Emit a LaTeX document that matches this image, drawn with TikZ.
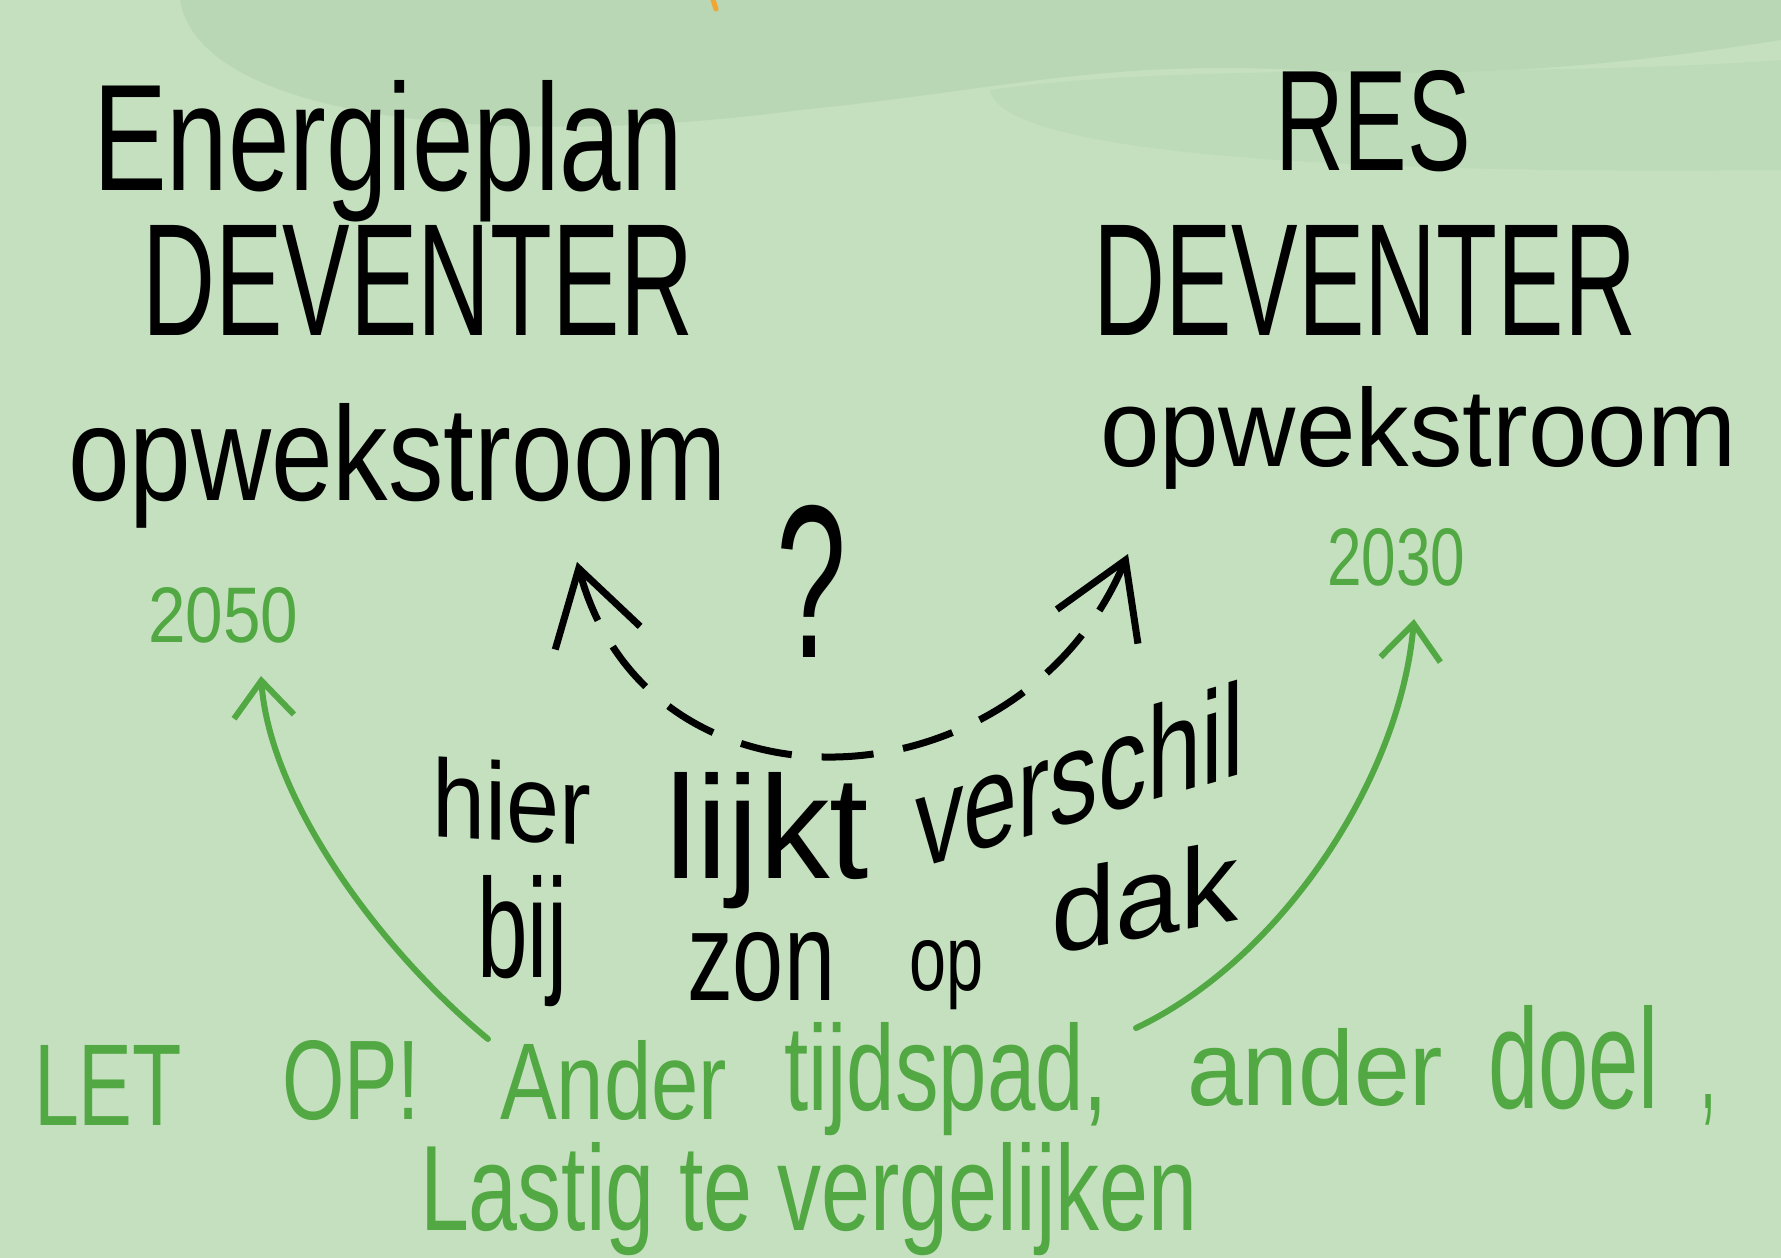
\documentclass[tikz,border=0pt]{standalone}
\usepackage{fontspec}
\setmainfont{Liberation Sans}
\usetikzlibrary{arrows.meta}
\definecolor{bgmain}{HTML}{C4E0BF}
\definecolor{bgdark}{HTML}{BAD7B5}
\definecolor{inkgreen}{HTML}{52A842}
\definecolor{inkorange}{HTML}{F2A531}
\newcommand{\hwt}[3]{\resizebox{#1pt}{#2pt}{#3}}
\begin{document}
\begin{tikzpicture}[x=1pt,y=-1pt,
  hand/.style={inner sep=0pt,outer sep=0pt,anchor=base west},
  blackink/.style={text=black},
  greenink/.style={text=inkgreen},
  dasharc/.style={line width=7pt,dash pattern=on 52pt off 30pt,line cap=butt,
     {Straight Barb[length=72pt,width=88pt,line width=7pt]}-{Straight Barb[length=72pt,width=88pt,line width=7pt]}},
  greenarrow/.style={draw=inkgreen,line width=6pt,line cap=round,
     -{Straight Barb[length=36pt,width=60pt,line width=6pt]}}]
\useasboundingbox (0,0) rectangle (1781,1258);
\begin{scope}
\clip (0,0) rectangle (1781,1258);
\fill[bgmain] (0,0) rectangle (1781,1258);
% darker wash at the top
\fill[bgdark] (180,0) .. controls (200,120) and (500,150) .. (800,110)
  .. controls (1000,90) and (1100,60) .. (1300,70)
  .. controls (1500,80) and (1650,60) .. (1781,40) -- (1781,0) -- cycle;
\fill[bgdark,opacity=0.5] (990,90) .. controls (1000,150) and (1300,175) .. (1781,170)
  -- (1781,60) .. controls (1500,80) and (1200,60) .. (990,90) -- cycle;
\draw[inkorange,line width=5pt,line cap=round] (713,0) -- (716,9);
\end{scope}
% left titles
\node[hand] (energieplan) at (93,190) {\hwt{589}{110}{Energieplan}};
\node[hand] (devl) at (142,335) {\hwt{551}{110}{DEVENTER}};
\node[hand] (opwl) at (68,500) {\hwt{659}{97}{opwekstroom}};
\node[hand,greenink] (y2050) at (148,642) {\hwt{150}{55}{2050}};
% right titles
\node[hand] (res) at (1275,170) {\hwt{196}{100}{RES}};
\node[hand] (devr) at (1093,335) {\hwt{543}{110}{DEVENTER}};
\node[hand] (opwr) at (1100,466) {\hwt{636}{80}{opwekstroom}};
\node[hand,greenink] (y2030) at (1327,585) {\hwt{138}{57}{2030}};
% question mark
\node[hand] (qm) at (776,657) {\hwt{70}{152}{?}};
% middle black words
\begin{scope}[shift={(432,836)},yslant=-0.06]
\node[hand,transform shape] (hier) at (0,0) {\hwt{159}{80}{hier}};
\end{scope}
\node[hand] (lijkt) at (665,878) {\hwt{204}{106}{lijkt}};
\begin{scope}[shift={(915,869)},yslant=0.29]
\node[hand,transform shape] (verschil) at (0,0) {\hwt{329}{95}{verschil}};
\end{scope}
\node[hand] (bij) at (477,977) {\hwt{91}{102}{bij}};
\node[hand] (zon) at (687,1000) {\hwt{148}{68}{zon}};
\node[hand] (op) at (909,990) {\hwt{74}{50}{op}};
\begin{scope}[shift={(1051,954)},yslant=0.18]
\node[hand,transform shape] (dak) at (0,0) {\hwt{187}{82}{dak}};
\end{scope}
% green bottom text
\node[hand,greenink] (let) at (34,1125) {\hwt{148}{80}{LET}};
\node[hand,greenink] (letop) at (282,1119) {\hwt{138}{79}{OP!}};
\node[hand,greenink] (ander1) at (500,1119) {\hwt{227}{79}{Ander}};
\node[hand,greenink] (tijdspad) at (784,1110) {\hwt{324}{88}{tijdspad,}};
\node[hand,greenink] (ander2) at (1187,1105) {\hwt{256}{77}{ander}};
\node[hand,greenink] (doel) at (1488,1108) {\hwt{171}{103}{doel}};
\node[hand,greenink] (comma) at (1700,1108) {\hwt{16}{14}{,}};
\node[hand,greenink] (lastig) at (420,1230) {\hwt{778}{88}{Lastig te vergelijken}};
% connectors
\coordinate (arcL) at (577,562);
\coordinate (arcR) at (1128,554);
\draw[dasharc] (arcL) .. controls (650,830) and (1020,810) .. (arcR);
\coordinate (gLs) at (488,1039);
\coordinate (gLe) at (261,676);
\coordinate (gRs) at (1136,1028);
\coordinate (gRe) at (1414,619);
\draw[greenarrow] (gLs) .. controls (380,950) and (270,800) .. (gLe);
\draw[greenarrow] (gRs) .. controls (1280,960) and (1400,780) .. (gRe);
\end{tikzpicture}
\end{document}
